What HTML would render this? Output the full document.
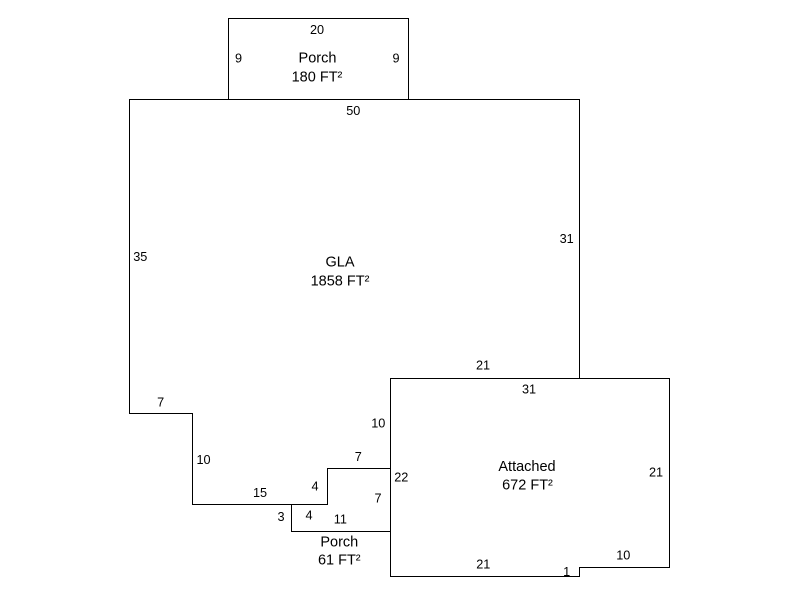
<!DOCTYPE html>
<html>
<head>
<meta charset="utf-8">
<style>
  html, body { margin: 0; padding: 0; background: #fff; }
  svg { display: block; }
  text { font-family: "Liberation Sans", Arial, sans-serif; fill: #000; }
  .d { font-size: 12.7px; }
  .a { font-size: 14.5px; }
</style>
</head>
<body>
<svg width="800" height="600" viewBox="0 0 800 600" xmlns="http://www.w3.org/2000/svg">
  <rect x="0" y="0" width="800" height="600" fill="#fff"/>
  <g fill="none" stroke="#000" stroke-width="1">
    <!-- Top porch -->
    <rect x="228.5" y="18.5" width="180" height="81"/>
    <!-- GLA -->
    <polygon points="129.5,99.5 579.5,99.5 579.5,378.5 390.5,378.5 390.5,468.5 327.5,468.5 327.5,504.5 192.5,504.5 192.5,413.5 129.5,413.5"/>
    <!-- Small porch -->
    <polygon points="291.5,504.5 327.5,504.5 327.5,468.5 390.5,468.5 390.5,531.5 291.5,531.5"/>
    <!-- Attached -->
    <polygon points="390.5,378.5 669.5,378.5 669.5,567.5 579.5,567.5 579.5,576.5 390.5,576.5"/>
  </g>

  <!-- Top porch labels -->
  <text class="d" x="317" y="34" text-anchor="middle">20</text>
  <text class="d" x="238.5" y="62.5" text-anchor="middle">9</text>
  <text class="d" x="396" y="62.5" text-anchor="middle">9</text>
  <text class="a" x="317.5" y="62.7" text-anchor="middle">Porch</text>
  <text class="a" x="317" y="81.7" text-anchor="middle">180 FT²</text>

  <!-- GLA labels -->
  <text class="d" x="353.3" y="115" text-anchor="middle">50</text>
  <text class="d" x="140.3" y="261" text-anchor="middle">35</text>
  <text class="d" x="566.7" y="243" text-anchor="middle">31</text>
  <text class="a" x="340" y="266.7" text-anchor="middle">GLA</text>
  <text class="a" x="340" y="285.7" text-anchor="middle">1858 FT²</text>
  <text class="d" x="160.7" y="406.7" text-anchor="middle">7</text>
  <text class="d" x="203.5" y="464" text-anchor="middle">10</text>
  <text class="d" x="378.3" y="427.7" text-anchor="middle">10</text>
  <text class="d" x="358.3" y="461" text-anchor="middle">7</text>
  <text class="d" x="260" y="497" text-anchor="middle">15</text>
  <text class="d" x="315" y="490.7" text-anchor="middle">4</text>
  <text class="d" x="401.3" y="481.7" text-anchor="middle">22</text>
  <text class="d" x="378" y="502.7" text-anchor="middle">7</text>

  <!-- Small porch labels -->
  <text class="d" x="281" y="521" text-anchor="middle">3</text>
  <text class="d" x="309" y="519.3" text-anchor="middle">4</text>
  <text class="d" x="340.3" y="523.3" text-anchor="middle">11</text>
  <text class="a" x="339.3" y="546.7" text-anchor="middle">Porch</text>
  <text class="a" x="339.3" y="564.3" text-anchor="middle">61 FT²</text>

  <!-- Attached labels -->
  <text class="d" x="483" y="369.3" text-anchor="middle">21</text>
  <text class="d" x="529" y="393.3" text-anchor="middle">31</text>
  <text class="a" x="527" y="471" text-anchor="middle">Attached</text>
  <text class="a" x="527.5" y="489.3" text-anchor="middle">672 FT²</text>
  <text class="d" x="656" y="476.7" text-anchor="middle">21</text>
  <text class="d" x="623.3" y="559.3" text-anchor="middle">10</text>
  <text class="d" x="483.3" y="568.3" text-anchor="middle">21</text>
  <text class="d" x="566.7" y="576" text-anchor="middle">1</text>
</svg>
</body>
</html>
